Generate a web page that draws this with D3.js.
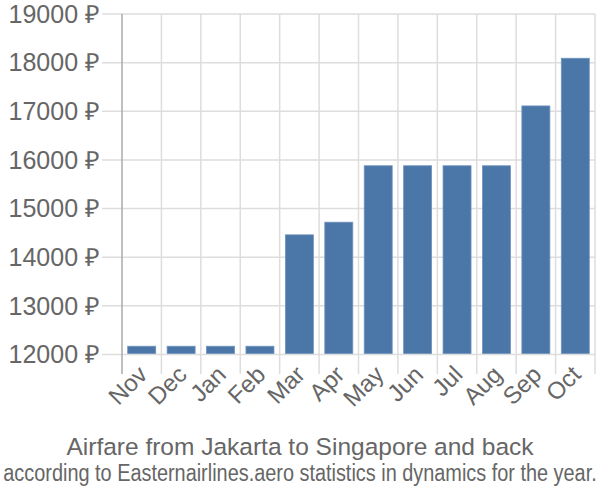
<!DOCTYPE html>
<html><head><meta charset="utf-8">
<script src="https://cdn.jsdelivr.net/npm/d3@7"></script>
<style>body{margin:0;background:#fff}svg{display:block;font-family:"Liberation Sans",Arial,sans-serif}</style>
</head><body><svg id="c" width="600" height="500"></svg>
<script>
const months = ["Nov","Dec","Jan","Feb","Mar","Apr","May","Jun","Jul","Aug","Sep","Oct"];
const prices = [12170,12170,12170,12170,14460,14720,15880,15880,15880,15880,17110,18090];
const yTicks = [12000,13000,14000,15000,16000,17000,18000,19000];
const title = "Airfare from Jakarta to Singapore and back";
const subtitle = "according to Easternairlines.aero statistics in dynamics for the year.";

const svg = d3.select("#c");
const L=122, R=595, T=14, B=354.5;
const x = d3.scaleBand().domain(months).range([L,R]).paddingInner(0.29).paddingOuter(0.145);
const xb = d3.scaleBand().domain(months).range([L,R]);
const y = d3.scaleLinear().domain([12000,19000]).range([B,T]);
const grid="#dddddd", txt="#666666";

// horizontal grid
svg.append("g").selectAll("line").data(yTicks).join("line")
  .attr("x1",102).attr("x2",R).attr("y1",d=>y(d)).attr("y2",d=>y(d))
  .attr("stroke",grid).attr("stroke-width",1.5);
// vertical grid
svg.append("g").selectAll("line").data(months).join("line")
  .attr("x1",d=>xb(d)+xb.bandwidth()).attr("x2",d=>xb(d)+xb.bandwidth())
  .attr("y1",T).attr("y2",374).attr("stroke",grid).attr("stroke-width",1.5);
// y axis line
svg.append("line").attr("x1",L).attr("x2",L).attr("y1",T).attr("y2",374).attr("stroke","#aaaaaa").attr("stroke-width",1.5);

// bars
svg.append("g").selectAll("rect").data(prices).join("rect")
  .attr("x",(d,i)=>x(months[i])).attr("width",x.bandwidth())
  .attr("y",d=>y(d)).attr("height",d=>y(12000)-y(d)-1)
  .attr("fill","#4a76a8").attr("stroke","#6f93bd").attr("stroke-width",0.8);

// y labels
svg.append("g").selectAll("text").data(yTicks).join("text")
  .attr("x",100).attr("y",d=>y(d)).attr("dy","0.35em").attr("text-anchor","end")
  .attr("fill",txt).attr("font-size",25).text(d=>d+" ₽");

// x labels
svg.append("g").selectAll("text").data(months).join("text")
  .attr("transform",d=>`translate(${xb(d)+xb.bandwidth()/2+7},${376}) rotate(-45)`)
  .attr("text-anchor","end").attr("fill",txt).attr("font-size",24).text(d=>d);

svg.append("text").attr("x",300).attr("y",455).attr("text-anchor","middle").attr("fill",txt)
  .attr("font-size",24.5).text(title);
const sub = svg.append("text").attr("x",0).attr("y",0).attr("text-anchor","middle").attr("fill",txt)
  .attr("font-size",24.5).text(subtitle);
const natural = sub.node().getComputedTextLength();
const sx = Math.min(1, 594/natural);
sub.attr("transform",`translate(300,481) scale(${sx},1)`);
</script></body></html>
